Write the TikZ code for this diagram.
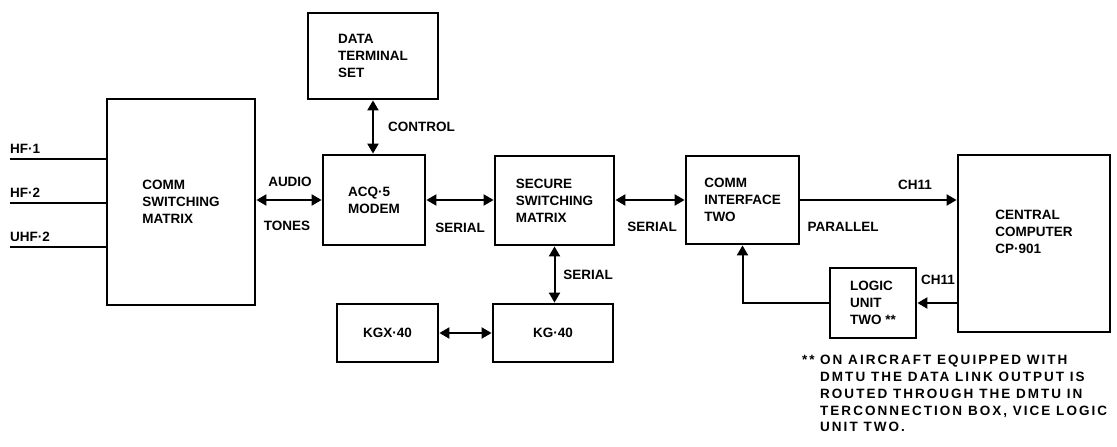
\documentclass[tikz,border=0pt]{standalone}
\usepackage{fontspec}
\setmainfont{Liberation Sans}
\newfontfamily\fnfont[LetterSpace=15]{Liberation Sans}
\usetikzlibrary{arrows.meta}
\newcommand\lblfont{\bfseries\fontsize{13.5}{17}\selectfont}
\newcommand\fnotefont{\fnfont\bfseries\fontsize{13.5}{16.8}\selectfont}
\tikzset{
  box/.style={draw, line width=2.8pt, align=left, inner sep=0pt, font=\lblfont},
  conn/.style={line width=2pt},
  lbl/.style={font=\lblfont, inner sep=0pt},
  >={Triangle[length=10pt,width=11pt]}
}
\begin{document}
\begin{tikzpicture}[x=1pt,y=-1pt]
\useasboundingbox (0,0) rectangle (1117,447);
% boxes
\node[box, minimum width=148pt, minimum height=206pt] (csm) at (181,202) {COMM\\SWITCHING\\MATRIX};
\node[box, minimum width=130pt, minimum height=86pt] (dts) at (373,56) {DATA\\TERMINAL\\SET};
\node[box, minimum width=102pt, minimum height=90pt] (modem) at (374,200) {ACQ·5\\MODEM};
\node[box, minimum width=119pt, minimum height=89pt] (ssm) at (554.5,200.5) {SECURE\\SWITCHING\\MATRIX};
\node[box, minimum width=113pt, minimum height=88pt] (ci) at (742.5,200) {COMM\\INTERFACE\\TWO};
\node[box, minimum width=152pt, minimum height=177pt] (cc) at (1034,243.5) {CENTRAL\\COMPUTER\\CP·901\\[6pt]};
\node[box, minimum width=86pt, minimum height=70pt] (lu) at (873,303) {LOGIC\\UNIT\\TWO **};
\node[box, minimum width=101pt, minimum height=58pt] (kgx) at (387.5,333) {KGX·40};
\node[box, minimum width=120pt, minimum height=58pt] (kg) at (553,333) {KG·40};
% inputs
\coordinate (hf1) at (10,159);
\coordinate (hf2) at (10,203);
\coordinate (uhf2) at (10,247);
\draw[conn] (hf1) -- (hf1 -| csm.west);
\draw[conn] (hf2) -- (hf2 -| csm.west);
\draw[conn] (uhf2) -- (uhf2 -| csm.west);
\node[lbl, anchor=west] (lhf1) at (10,149) {HF·1};
\node[lbl, anchor=west] (lhf2) at (10,193) {HF·2};
\node[lbl, anchor=west] (luhf2) at (10,237) {UHF·2};
% connectors
\draw[conn, <->] (modem.west -| csm.east) -- (modem.west);
\draw[conn, <->] (dts.south) -- (dts.south |- modem.north);
\draw[conn, <->] (modem.east) -- (modem.east -| ssm.west);
\draw[conn, <->] (ssm.east |- ci.west) -- (ci.west);
\draw[conn, <->] (ssm.south) -- (ssm.south |- kg.north);
\draw[conn, <->] (kgx.east) -- (kgx.east -| kg.west);
\draw[conn, ->] (ci.east) -- (ci.east -| cc.west);
\draw[conn, ->] (lu.east -| cc.west) -- (lu.east);
\draw[conn, ->] (lu.west) -| (ci.south);
% labels
\node[lbl] (laudio) at (290,182) {AUDIO};
\node[lbl] (ltones) at (287,226) {TONES};
\node[lbl, anchor=west] (lcontrol) at (388,127) {CONTROL};
\node[lbl] (lser1) at (460,228) {SERIAL};
\node[lbl] (lser2) at (652,227) {SERIAL};
\node[lbl] (lser3) at (588,275) {SERIAL};
\node[lbl] (lch1) at (915,185) {CH11};
\node[lbl] (lpar) at (843,227) {PARALLEL};
\node[lbl] (lch2) at (938,280) {CH11};
% footnote
\node[inner sep=0pt, anchor=north west, font=\fnotefont] (fnmark) at (802,355) {**};
\node[inner sep=0pt, anchor=north west, align=left, font=\fnotefont] (fntext) at (820,355)
  {ON AIRCRAFT EQUIPPED WITH\\DMTU THE DATA LINK OUTPUT IS\\ROUTED THROUGH THE DMTU IN\\TERCONNECTION BOX, VICE LOGIC\\UNIT TWO.};
\end{tikzpicture}
\end{document}
